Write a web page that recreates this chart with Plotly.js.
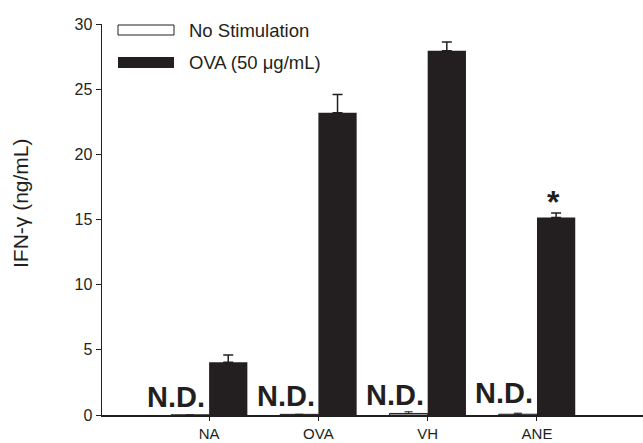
<!DOCTYPE html>
<html>
<head>
<meta charset="utf-8">
<script src="https://cdn.plot.ly/plotly-3.0.1.min.js"></script>
<style>html,body{margin:0;padding:0;background:#fff;}#chart{width:643px;height:443px;}</style>
</head>
<body>
<div id="chart"></div>
<script>
// ---- data ----
const categories = ['NA', 'OVA', 'VH', 'ANE'];
const noStimValues = [0, 0.05, 0.12, 0.06];
const noStimErrors = [0, 0, 0.13, 0.08];
const ovaValues = [4.05, 23.2, 27.95, 15.15];
const ovaErrors = [0.55, 1.4, 0.67, 0.35];
const yTicks = [0, 5, 10, 15, 20, 25, 30];
const ndLabels = ['N.D.', 'N.D.', 'N.D.', 'N.D.'];
const ndLevels = [1.38, 1.45, 1.53, 1.72];
const seriesNames = ['No Stimulation', 'OVA (50 \u03bcg/mL)'];
const yTitle = 'IFN-\u03b3 (ng/mL)';

const ink = '#231f20';
const fontFam = '"Liberation Sans", Arial, sans-serif';

const traces = [
  {
    type: 'bar', name: seriesNames[0], x: categories, y: noStimValues,
    width: 0.35, offset: -0.35,
    marker: {color: '#ffffff', line: {color: ink, width: 1}},
    error_y: {type: 'data', array: noStimErrors, arrayminus: noStimErrors.map(() => 0), symmetric: false, color: ink, thickness: 1, width: 4},
    showlegend: false, hoverinfo: 'skip'
  },
  {
    type: 'bar', name: seriesNames[1], x: categories, y: ovaValues,
    width: 0.35, offset: 0,
    marker: {color: ink, line: {color: ink, width: 0}},
    error_y: {type: 'data', array: ovaErrors, arrayminus: ovaErrors.map(() => 0), symmetric: false, color: ink, thickness: 1.5, width: 5},
    showlegend: false, hoverinfo: 'skip'
  }
];

const plotL = 102, plotR = 643, plotT = 24, plotB = 415;
const pw = plotR - plotL, ph = plotB - plotT;
const px = v => (v - plotL) / pw;
const py = v => (plotB - v) / ph;

const annotations = [];
ndLabels.forEach((t, i) => {
  annotations.push({
    x: i - 0.3, y: ndLevels[i], xref: 'x', yref: 'y', text: '<b>' + t + '</b>',
    showarrow: false, xanchor: 'center', yanchor: 'middle',
    font: {family: fontFam, size: 29, color: ink}
  });
});
annotations.push({
  x: 3 + 0.15, y: ovaValues[3] + ovaErrors[3], xref: 'x', yref: 'y', text: '<b>*</b>',
  showarrow: false, xanchor: 'center', yanchor: 'bottom', yshift: -9,
  font: {family: fontFam, size: 32, color: ink}
});
annotations.push({
  x: px(187), y: py(30), xref: 'paper', yref: 'paper', text: seriesNames[0],
  showarrow: false, xanchor: 'left', yanchor: 'middle',
  font: {family: fontFam, size: 18.5, color: ink}
});
annotations.push({
  x: px(187), y: py(62), xref: 'paper', yref: 'paper', text: seriesNames[1],
  showarrow: false, xanchor: 'left', yanchor: 'middle',
  font: {family: fontFam, size: 18.5, color: ink}
});
annotations.push({
  x: px(20), y: py(203), xref: 'paper', yref: 'paper', text: yTitle,
  showarrow: false, xanchor: 'center', yanchor: 'middle', textangle: -90,
  font: {family: fontFam, size: 21, color: ink}
});

const shapes = [
  {type: 'rect', xref: 'paper', yref: 'paper', x0: px(118), x1: px(174), y0: py(35), y1: py(25),
   fillcolor: '#ffffff', line: {color: ink, width: 1}},
  {type: 'rect', xref: 'paper', yref: 'paper', x0: px(118), x1: px(174), y0: py(68), y1: py(57),
   fillcolor: ink, line: {color: ink, width: 0}}
];

const layout = {
  width: 643, height: 443,
  margin: {l: plotL, r: 0, t: plotT, b: 443 - plotB, pad: 0},
  paper_bgcolor: '#ffffff', plot_bgcolor: '#ffffff',
  barmode: 'overlay',
  showlegend: false,
  font: {family: fontFam, color: ink, size: 16},
  xaxis: {
    type: 'category', range: [-0.98, 3.97],
    showline: true, linecolor: ink, linewidth: 1.5,
    ticks: 'outside', ticklen: 4, tickwidth: 1, tickcolor: ink,
    showgrid: false, zeroline: false,
    tickfont: {family: fontFam, size: 15, color: ink}
  },
  yaxis: {
    range: [0, 30], tickvals: yTicks, ticktext: yTicks.map(String),
    showline: true, linecolor: ink, linewidth: 1.5,
    ticks: 'outside', ticklen: 5, tickwidth: 1, tickcolor: ink,
    showgrid: false, zeroline: false,
    tickfont: {family: fontFam, size: 16, color: ink}
  },
  shapes: shapes,
  annotations: annotations
};

Plotly.newPlot('chart', traces, layout, {staticPlot: true, displayModeBar: false});
</script>
</body>
</html>
